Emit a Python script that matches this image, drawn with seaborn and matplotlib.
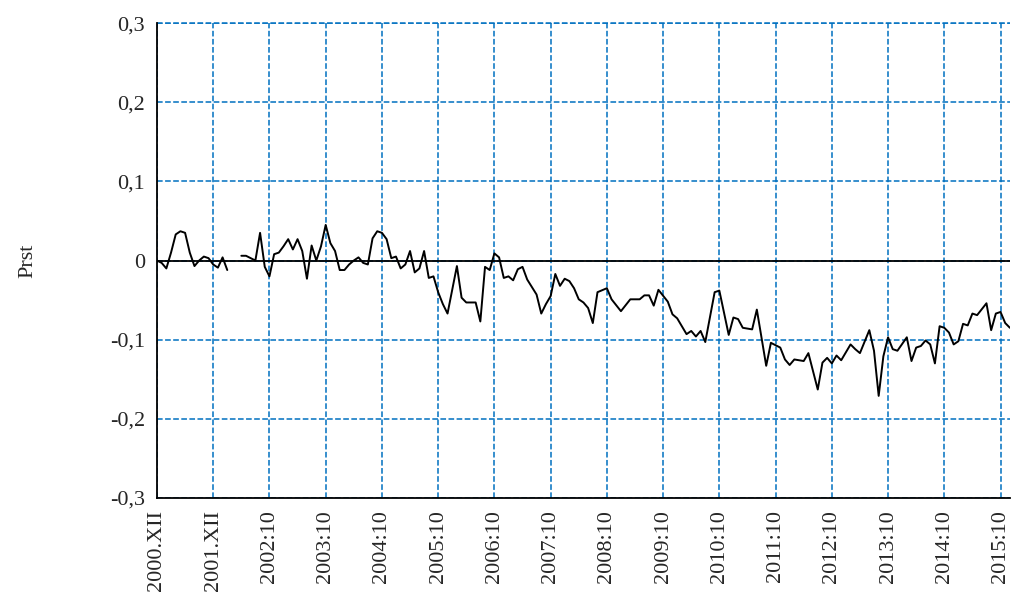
import numpy as np
import pandas as pd
import matplotlib
matplotlib.use("Agg")
import matplotlib.pyplot as plt
import seaborn as sns

# month index (0 = 2000.XII) and Prst values
months_a = list(range(0, 16))
prst_a = [0, -0.003, -0.01, 0.01, 0.033, 0.037, 0.035, 0.01, -0.007, 0.0,
          0.005, 0.003, -0.005, -0.009, 0.004, -0.012]

months_b = list(range(18, 63)) + [
    64, 65, 66, 68, 69, 70, 71, 72, 73, 74, 75, 76, 77, 78, 79, 81, 82, 83, 84,
    85, 86, 87, 88, 89, 90, 91, 92, 93, 94, 96, 97, 99, 101, 103, 104, 105, 106,
    107, 109, 110, 111, 113, 114, 115, 116, 117, 119, 120, 122,
    123, 124, 125, 127, 128, 130, 131, 133, 134, 135, 136, 138, 139, 141, 142,
    143, 144, 145, 146, 148, 149, 150, 152, 153, 154, 155, 156, 157, 158, 160,
    161, 162, 163, 164, 165, 166, 167, 168, 169, 170, 171, 172, 173, 174, 175,
    177, 178, 179, 180, 181, 182]
prst_b = [
    0.006, 0.006, 0.003, 0, 0.035, -0.008, -0.02, 0.008, 0.01, 0.018, 0.027,
    0.014, 0.027, 0.012, -0.023, 0.019, 0, 0.018, 0.045, 0.022, 0.012, -0.012,
    -0.012, -0.005, 0, 0.004, -0.003, -0.005, 0.028, 0.037, 0.035, 0.027, 0.003,
    0.005, -0.01, -0.005, 0.012, -0.015, -0.01, 0.012, -0.022, -0.02, -0.04,
    -0.055, -0.067,
    -0.007, -0.047, -0.053, -0.053, -0.077, -0.008, -0.012, 0.009, 0.004, -0.022,
    -0.02, -0.025, -0.011, -0.008, -0.024, -0.043, -0.067, -0.055, -0.045, -0.017,
    -0.032, -0.023, -0.026, -0.035, -0.049, -0.053, -0.06, -0.079, -0.04, -0.035,
    -0.049, -0.064, -0.049, -0.049, -0.044, -0.044, -0.057, -0.037, -0.052,
    -0.068, -0.073, -0.093, -0.089, -0.096, -0.089, -0.103, -0.04, -0.038, -0.094,
    -0.072, -0.074, -0.085, -0.087, -0.062, -0.133, -0.104, -0.11, -0.125, -0.132,
    -0.125, -0.127, -0.117, -0.163, -0.129, -0.123, -0.13, -0.12, -0.126, -0.106,
    -0.112, -0.117, -0.088, -0.114, -0.171, -0.121, -0.097, -0.112, -0.114,
    -0.097, -0.127, -0.11, -0.108, -0.101, -0.106, -0.13, -0.083, -0.085, -0.091,
    -0.106, -0.102, -0.08, -0.082, -0.067, -0.069, -0.054, -0.088, -0.067,
    -0.065, -0.079, -0.085]

tick_pos = [0, 12, 24, 36, 48, 60, 72, 84, 96, 108, 120, 132, 144, 156, 168, 180]
tick_labels = ["2000.XII", "2001.XII", "2002:10", "2003:10", "2004:10", "2005:10",
               "2006:10", "2007:10", "2008:10", "2009:10", "2010:10", "2011:10",
               "2012:10", "2013:10", "2014:10", "2015:10"]

df = pd.concat([
    pd.DataFrame({"month": months_a, "prst": prst_a, "seg": 0}),
    pd.DataFrame({"month": months_b, "prst": prst_b, "seg": 1}),
])

sns.set_style("white")
plt.rcParams["font.family"] = ["Liberation Serif", "DejaVu Serif"]

fig = plt.figure(figsize=(10.16, 6.08), dpi=100)
ax = fig.add_axes([0.1545, 0.181, 0.8395, 0.781])

ax.grid(True, color="#0070C0", linestyle="--", linewidth=1.1)
ax.set_axisbelow(True)
ax.axhline(0, color="black", linewidth=1.3)
ax.axhline(0.3, color="#0070C0", linestyle="--", linewidth=1.1, clip_on=False)
sns.lineplot(data=df, x="month", y="prst", units="seg", estimator=None,
             color="black", linewidth=1.4, ax=ax)

ax.set_xlim(0, 182)
ax.set_ylim(-0.3, 0.3)
ax.set_yticks(np.arange(-0.3, 0.31, 0.1))
ax.set_yticklabels(["-0,3", "-0,2", "-0,1", "0", "0,1", "0,2", "0,3"], fontsize=16)
ax.set_xticks(tick_pos)
ax.set_xticklabels(tick_labels, rotation=90, fontsize=16)
ax.tick_params(axis="both", length=5, direction="out", color="black")
ax.set_xlabel("")
ax.set_ylabel("Prst", fontsize=16, labelpad=52)

for side in ["top", "right"]:
    ax.spines[side].set_visible(False)
for side in ["left", "bottom"]:
    ax.spines[side].set_color("black")
    ax.spines[side].set_linewidth(1.3)

fig.savefig("out.png", dpi=100)
